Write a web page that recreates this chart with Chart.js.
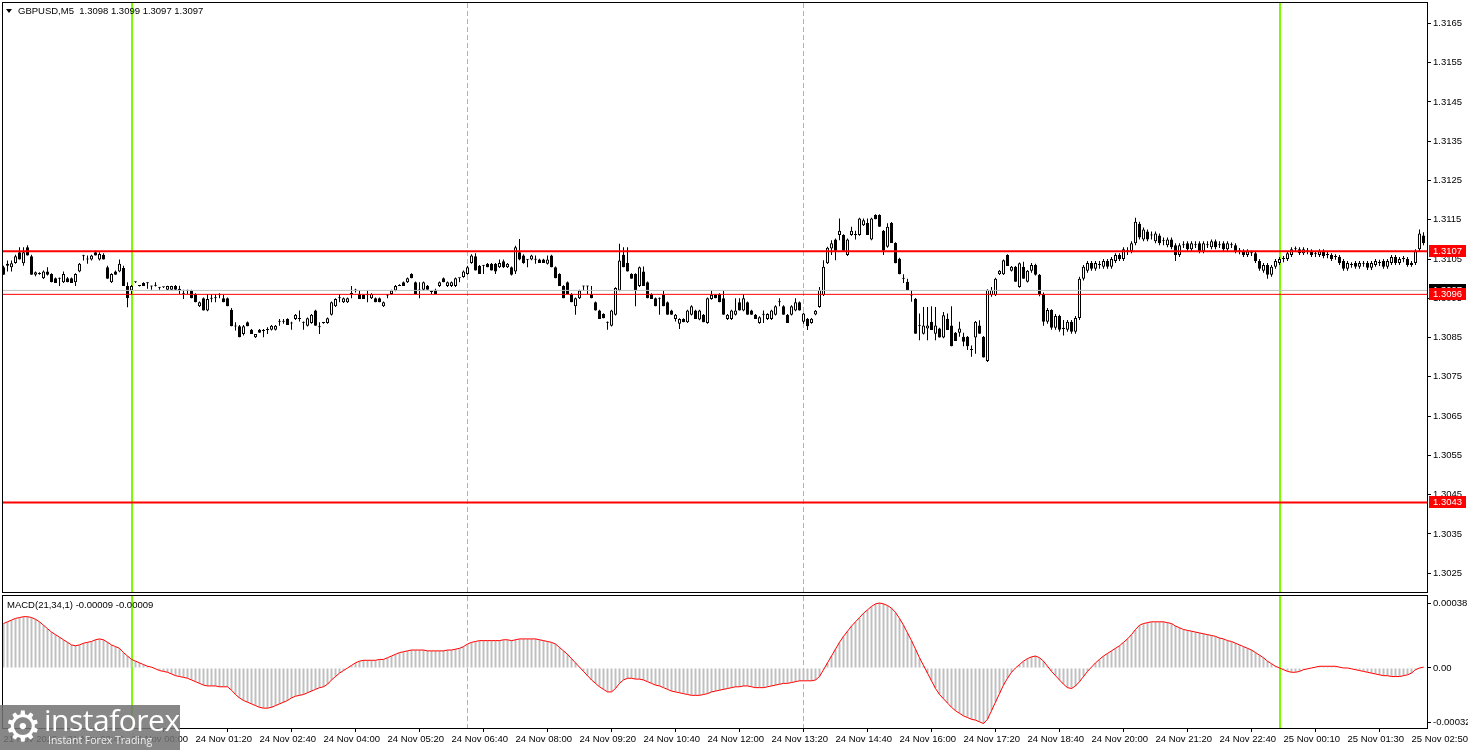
<!DOCTYPE html>
<html>
<head>
<meta charset="utf-8">
<title>GBPUSD M5</title>
<script src="https://cdn.jsdelivr.net/npm/chart.js@4.4.1/dist/chart.umd.min.js"></script>
<style>
  body { margin: 0; background: #fff; width: 1468px; height: 750px; overflow: hidden; position: relative; font-family: "Liberation Sans", Arial, sans-serif; }
  #pricePane { position: absolute; left: 0; top: 0; }
  #macdPane { position: absolute; left: 0; top: 594px; }
  .tri { position: absolute; left: 6px; top: 9px; width: 0; height: 0; border-left: 3.5px solid transparent; border-right: 3.5px solid transparent; border-top: 4px solid #000; }
  .hdr { position: absolute; left: 18px; top: 5px; font-size: 9.5px; line-height: 11px; color: #000; white-space: pre; }
  .macdHdr { position: absolute; left: 7px; top: 599px; font-size: 9.5px; line-height: 11px; color: #000; white-space: pre; }
  #logo { position: absolute; left: 0; top: 705px; width: 180px; height: 45px; background: rgba(115,115,115,0.86); color: #fff; overflow: hidden; }
  #logo .gear { position: absolute; left: 4px; top: -1px; font-family: "DejaVu Sans"; font-size: 42px; line-height: 46px; }
  #logo .brand { position: absolute; left: 44px; top: -1px; font-family: "Open Sans"; font-size: 30px; line-height: 32px; letter-spacing: -0.5px; }
  #logo .tag { position: absolute; left: 48px; top: 29px; font-family: "Open Sans"; font-size: 10.5px; line-height: 13px; color: #eee; }
</style>
</head>
<body>
<canvas id="pricePane" width="1468" height="594"></canvas>
<canvas id="macdPane" width="1468" height="156"></canvas>
<div class="tri"></div>
<div class="hdr">GBPUSD,M5  1.3098 1.3099 1.3097 1.3097</div>
<div class="macdHdr">MACD(21,34,1) -0.00009 -0.00009</div>
<div id="logo"><span class="gear">⚙</span><span class="brand">instaforex</span><span class="tag">Instant Forex Trading</span></div>
<script>
/*********************************/
// GBPUSD M5 + MACD panes        //
/*********************************/

// candles, one per 5 minutes (21 Nov 21:20 .. 25 Nov 03:00)
var opens = [
  1.31029,1.31033,1.31029,1.31040,1.31067,1.31039,1.31080,1.31057,1.31010,1.31012,
  1.31001,1.31018,1.31012,1.31001,1.31001,1.30991,1.31001,1.31001,1.30991,1.31018,
  1.31057,1.31049,1.31049,1.31067,1.31049,1.31061,1.31029,1.30991,1.31018,1.31018,
  1.31027,1.30981,1.30970,1.30991,1.30981,1.30989,1.30989,1.30981,1.30982,1.30978,
  1.30978,1.30972,1.30972,1.30981,1.30972,1.30961,1.30970,1.30970,1.30961,1.30930,
  1.30950,1.30919,1.30950,1.30950,1.30959,1.30950,1.30950,1.30921,1.30879,1.30879,
  1.30859,1.30889,1.30870,1.30851,1.30870,1.30868,1.30870,1.30870,1.30870,1.30891,
  1.30890,1.30897,1.30887,1.30897,1.30897,1.30889,1.30880,1.30887,1.30919,1.30876,
  1.30887,1.30887,1.30908,1.30930,1.30950,1.30940,1.30940,1.30961,1.30970,1.30961,
  1.30959,1.30959,1.30950,1.30950,1.30950,1.30930,1.30957,1.30961,1.30970,1.30984,
  1.30991,1.30991,1.31012,1.30991,1.30970,1.30972,1.30982,1.30967,1.30972,1.30981,
  1.31001,1.30981,1.30981,1.30981,1.31001,1.31004,1.31012,1.31040,1.31057,1.31033,
  1.31033,1.31038,1.31038,1.31038,1.31029,1.31044,1.31029,1.31029,1.31018,1.31067,
  1.31059,1.31049,1.31049,1.31049,1.31049,1.31049,1.31038,1.31059,1.31029,1.31012,
  1.30981,1.30991,1.30961,1.30930,1.30950,1.30981,1.30981,1.30961,1.30940,1.30919,
  1.30910,1.30889,1.30880,1.30908,1.30970,1.31061,1.31040,1.31012,1.31012,1.30981,
  1.31018,1.30991,1.30961,1.30950,1.30950,1.30959,1.30940,1.30919,1.30897,1.30885,
  1.30897,1.30889,1.30908,1.30919,1.30896,1.30908,1.30887,1.30948,1.30959,1.30961,
  1.30950,1.30897,1.30897,1.30908,1.30940,1.30919,1.30940,1.30919,1.30908,1.30887,
  1.30908,1.30897,1.30897,1.30908,1.30940,1.30930,1.30908,1.30908,1.30919,1.30940,
  1.30890,1.30898,1.30887,1.30909,1.30928,1.30958,1.31039,1.31077,1.31100,1.31111,
  1.31111,1.31060,1.31111,1.31111,1.31111,1.31136,1.31142,1.31100,1.31162,1.31162,
  1.31122,1.31081,1.31142,1.31091,1.31051,1.31000,1.30992,1.30958,1.30949,1.30881,
  1.30860,1.30873,1.30890,1.30860,1.30873,1.30850,1.30898,1.30881,1.30862,1.30862,
  1.30852,1.30852,1.30819,1.30850,1.30881,1.30852,1.30790,1.30958,1.30958,1.31011,
  1.31011,1.31060,1.31020,1.31030,1.30979,1.31030,1.30992,1.31020,1.31035,1.31010,
  1.30960,1.30890,1.30920,1.30875,1.30905,1.30872,1.30870,1.30890,1.30865,1.30900,
  1.31000,1.31020,1.31040,1.31025,1.31035,1.31030,1.31045,1.31030,1.31045,1.31060,
  1.31050,1.31070,1.31070,1.31090,1.31140,1.31100,1.31120,1.31110,1.31095,1.31110,
  1.31095,1.31085,1.31100,1.31085,1.31060,1.31085,1.31090,1.31075,1.31085,1.31090,
  1.31070,1.31085,1.31080,1.31095,1.31085,1.31090,1.31075,1.31085,1.31085,1.31070,
  1.31070,1.31060,1.31065,1.31065,1.31045,1.31020,1.31035,1.31010,1.31030,1.31040,
  1.31050,1.31050,1.31060,1.31075,1.31075,1.31065,1.31070,1.31070,1.31062,1.31060,
  1.31070,1.31060,1.31060,1.31055,1.31055,1.31045,1.31025,1.31035,1.31040,1.31030,
  1.31038,1.31040,1.31028,1.31035,1.31040,1.31045,1.31030,1.31040,1.31055,1.31040,
  1.31050,1.31050,1.31035,1.31040,1.31075,1.31110
];
var highs = [
  1.31033,1.31046,1.31046,1.31061,1.31080,1.31080,1.31085,1.31061,1.31018,1.31016,
  1.31021,1.31029,1.31014,1.31003,1.31003,1.31018,1.31004,1.31003,1.31014,1.31040,
  1.31061,1.31059,1.31061,1.31072,1.31067,1.31065,1.31033,1.31014,1.31021,1.31049,
  1.31033,1.30991,1.30984,1.30993,1.30982,1.30991,1.30991,1.30982,1.30991,1.30979,
  1.30979,1.30982,1.30982,1.30984,1.30982,1.30972,1.30972,1.30972,1.30963,1.30942,
  1.30952,1.30961,1.30961,1.30961,1.30963,1.30959,1.30952,1.30925,1.30889,1.30882,
  1.30882,1.30891,1.30872,1.30859,1.30872,1.30872,1.30876,1.30882,1.30882,1.30897,
  1.30897,1.30899,1.30890,1.30910,1.30919,1.30891,1.30901,1.30910,1.30921,1.30889,
  1.30889,1.30901,1.30942,1.30950,1.30961,1.30952,1.30952,1.30981,1.30974,1.30970,
  1.30961,1.30970,1.30963,1.30952,1.30952,1.30942,1.30961,1.30972,1.30984,1.30986,
  1.30993,1.31003,1.31014,1.30993,1.30991,1.30993,1.30984,1.30968,1.30974,1.30993,
  1.31003,1.30993,1.30993,1.31003,1.31003,1.31021,1.31033,1.31062,1.31065,1.31035,
  1.31035,1.31040,1.31040,1.31040,1.31049,1.31049,1.31040,1.31031,1.31084,1.31101,
  1.31062,1.31050,1.31061,1.31059,1.31051,1.31051,1.31059,1.31061,1.31031,1.31014,
  1.30983,1.30993,1.30963,1.30952,1.30972,1.30982,1.30982,1.30981,1.30942,1.30921,
  1.30912,1.30891,1.30921,1.30978,1.31089,1.31080,1.31080,1.31014,1.31014,1.31031,
  1.31031,1.30993,1.30963,1.30952,1.30952,1.30970,1.30942,1.30921,1.30910,1.30899,
  1.30899,1.30921,1.30932,1.30921,1.30921,1.30910,1.30952,1.30970,1.30961,1.30963,
  1.30970,1.30910,1.30921,1.30950,1.30950,1.30961,1.30942,1.30921,1.30910,1.30904,
  1.30919,1.30912,1.30921,1.30932,1.30950,1.30932,1.30910,1.30932,1.30950,1.30942,
  1.30913,1.30900,1.30900,1.30920,1.30979,1.31047,1.31081,1.31098,1.31102,1.31153,
  1.31113,1.31102,1.31132,1.31122,1.31155,1.31153,1.31153,1.31155,1.31164,1.31164,
  1.31124,1.31141,1.31144,1.31093,1.31053,1.31011,1.31000,1.30971,1.30951,1.30911,
  1.30928,1.30928,1.30930,1.30928,1.30875,1.30915,1.30911,1.30930,1.30864,1.30890,
  1.30862,1.30854,1.30830,1.30892,1.30894,1.30854,1.30973,1.30979,1.31002,1.31022,
  1.31049,1.31062,1.31032,1.31032,1.31041,1.31043,1.31022,1.31040,1.31038,1.31012,
  1.30965,1.30925,1.30922,1.30910,1.30908,1.30895,1.30895,1.30895,1.30905,1.31005,
  1.31035,1.31045,1.31045,1.31045,1.31045,1.31050,1.31050,1.31055,1.31065,1.31065,
  1.31080,1.31080,1.31095,1.31155,1.31145,1.31130,1.31125,1.31120,1.31120,1.31115,
  1.31105,1.31105,1.31105,1.31090,1.31090,1.31095,1.31095,1.31095,1.31095,1.31095,
  1.31095,1.31095,1.31100,1.31100,1.31095,1.31095,1.31095,1.31092,1.31090,1.31078,
  1.31075,1.31075,1.31072,1.31070,1.31050,1.31040,1.31040,1.31035,1.31050,1.31055,
  1.31058,1.31070,1.31080,1.31082,1.31080,1.31080,1.31078,1.31075,1.31070,1.31075,
  1.31075,1.31068,1.31065,1.31062,1.31060,1.31050,1.31045,1.31042,1.31045,1.31045,
  1.31045,1.31045,1.31045,1.31050,1.31048,1.31050,1.31050,1.31060,1.31060,1.31055,
  1.31058,1.31055,1.31045,1.31075,1.31125,1.31118
];
var lows = [
  1.31010,1.31018,1.31018,1.31038,1.31049,1.31033,1.31059,1.31010,1.31006,1.31010,
  1.30999,1.31008,1.30991,1.30989,1.30981,1.30989,1.30991,1.30989,1.30981,1.31016,
  1.31046,1.31038,1.31046,1.31059,1.31046,1.31049,1.31000,1.30989,1.31010,1.31016,
  1.30981,1.30927,1.30961,1.30989,1.30980,1.30981,1.30974,1.30972,1.30980,1.30972,
  1.30976,1.30971,1.30971,1.30972,1.30961,1.30948,1.30961,1.30950,1.30940,1.30928,
  1.30919,1.30917,1.30940,1.30940,1.30950,1.30940,1.30930,1.30879,1.30868,1.30851,
  1.30855,1.30879,1.30859,1.30849,1.30862,1.30851,1.30859,1.30868,1.30868,1.30880,
  1.30885,1.30882,1.30870,1.30895,1.30891,1.30870,1.30878,1.30885,1.30880,1.30859,
  1.30885,1.30885,1.30906,1.30928,1.30940,1.30938,1.30938,1.30950,1.30965,1.30948,
  1.30948,1.30940,1.30948,1.30940,1.30940,1.30928,1.30950,1.30959,1.30968,1.30981,
  1.30981,1.30989,1.31001,1.30961,1.30950,1.30970,1.30972,1.30961,1.30961,1.30979,
  1.30991,1.30979,1.30979,1.30979,1.30991,1.31002,1.31010,1.31038,1.31021,1.31012,
  1.31012,1.31029,1.31021,1.31012,1.31027,1.31027,1.31027,1.31008,1.31012,1.31047,
  1.31038,1.31029,1.31047,1.31038,1.31040,1.31040,1.31036,1.31029,1.31001,1.30981,
  1.30950,1.30961,1.30940,1.30908,1.30948,1.30970,1.30961,1.30950,1.30919,1.30897,
  1.30899,1.30870,1.30878,1.30906,1.30968,1.31029,1.31018,1.31000,1.30930,1.30979,
  1.30981,1.30950,1.30948,1.30930,1.30908,1.30930,1.30908,1.30908,1.30891,1.30872,
  1.30889,1.30887,1.30906,1.30897,1.30894,1.30889,1.30885,1.30946,1.30950,1.30940,
  1.30908,1.30895,1.30895,1.30906,1.30919,1.30917,1.30908,1.30908,1.30897,1.30885,
  1.30887,1.30895,1.30895,1.30906,1.30930,1.30908,1.30887,1.30906,1.30917,1.30919,
  1.30885,1.30869,1.30885,1.30907,1.30926,1.30956,1.31037,1.31060,1.31047,1.31098,
  1.31071,1.31058,1.31109,1.31100,1.31109,1.31134,1.31111,1.31098,1.31151,1.31132,
  1.31060,1.31079,1.31091,1.31039,1.31011,1.30989,1.30971,1.30941,1.30860,1.30843,
  1.30858,1.30843,1.30869,1.30843,1.30850,1.30848,1.30869,1.30828,1.30841,1.30852,
  1.30828,1.30818,1.30801,1.30809,1.30860,1.30799,1.30788,1.30954,1.30956,1.31009,
  1.31009,1.31032,1.31018,1.30992,1.30977,1.31000,1.30990,1.31015,1.31008,1.30955,
  1.30880,1.30885,1.30870,1.30870,1.30865,1.30855,1.30865,1.30860,1.30860,1.30895,
  1.30995,1.31015,1.31020,1.31020,1.31025,1.31025,1.31025,1.31025,1.31040,1.31045,
  1.31045,1.31060,1.31065,1.31085,1.31100,1.31095,1.31095,1.31100,1.31090,1.31085,
  1.31085,1.31080,1.31075,1.31045,1.31055,1.31078,1.31070,1.31070,1.31078,1.31065,
  1.31065,1.31078,1.31075,1.31075,1.31078,1.31070,1.31070,1.31078,1.31065,1.31062,
  1.31055,1.31055,1.31058,1.31040,1.31020,1.31015,1.31000,1.31005,1.31025,1.31035,
  1.31042,1.31045,1.31055,1.31068,1.31060,1.31060,1.31062,1.31055,1.31055,1.31055,
  1.31052,1.31052,1.31045,1.31048,1.31035,1.31020,1.31020,1.31028,1.31025,1.31025,
  1.31030,1.31022,1.31022,1.31030,1.31032,1.31025,1.31025,1.31035,1.31035,1.31035,
  1.31042,1.31030,1.31030,1.31035,1.31070,1.31085
];
var closes = [
  1.31010,1.31038,1.31039,1.31057,1.31049,1.31067,1.31059,1.31010,1.31016,1.31012,
  1.31018,1.31010,1.30991,1.30989,1.31000,1.31012,1.30991,1.30989,1.31012,1.31038,
  1.31058,1.31050,1.31059,1.31059,1.31063,1.31049,1.31000,1.31012,1.31010,1.31038,
  1.30981,1.30950,1.30981,1.30991,1.30981,1.30981,1.30988,1.30980,1.30984,1.30977,
  1.30978,1.30981,1.30981,1.30972,1.30971,1.30960,1.30969,1.30950,1.30940,1.30940,
  1.30919,1.30948,1.30949,1.30951,1.30958,1.30940,1.30930,1.30879,1.30878,1.30851,
  1.30879,1.30879,1.30859,1.30859,1.30862,1.30867,1.30869,1.30880,1.30880,1.30890,
  1.30891,1.30882,1.30886,1.30908,1.30898,1.30888,1.30899,1.30908,1.30880,1.30877,
  1.30887,1.30899,1.30940,1.30948,1.30951,1.30950,1.30950,1.30962,1.30971,1.30948,
  1.30948,1.30958,1.30961,1.30940,1.30940,1.30940,1.30958,1.30970,1.30981,1.30981,
  1.30981,1.31001,1.31001,1.30961,1.30971,1.30991,1.30972,1.30966,1.30961,1.30991,
  1.30991,1.30991,1.30991,1.31001,1.31002,1.31018,1.31029,1.31059,1.31021,1.31012,
  1.31034,1.31029,1.31021,1.31018,1.31040,1.31029,1.31038,1.31010,1.31080,1.31049,
  1.31040,1.31048,1.31059,1.31048,1.31040,1.31040,1.31049,1.31029,1.31001,1.30981,
  1.30950,1.30961,1.30940,1.30950,1.30970,1.30980,1.30980,1.30950,1.30919,1.30897,
  1.30899,1.30888,1.30919,1.30976,1.31046,1.31029,1.31018,1.31000,1.30970,1.31029,
  1.30981,1.30950,1.30948,1.30930,1.30949,1.30930,1.30908,1.30908,1.30908,1.30897,
  1.30889,1.30919,1.30930,1.30897,1.30919,1.30889,1.30950,1.30959,1.30950,1.30940,
  1.30908,1.30908,1.30919,1.30919,1.30919,1.30950,1.30908,1.30908,1.30897,1.30902,
  1.30909,1.30910,1.30919,1.30930,1.30941,1.30908,1.30887,1.30930,1.30940,1.30919,
  1.30911,1.30879,1.30898,1.30918,1.30971,1.31030,1.31079,1.31090,1.31071,1.31122,
  1.31071,1.31100,1.31122,1.31112,1.31153,1.31149,1.31111,1.31153,1.31151,1.31132,
  1.31071,1.31132,1.31091,1.31039,1.31011,1.31001,1.30971,1.30957,1.30860,1.30880,
  1.30881,1.30881,1.30869,1.30881,1.30850,1.30907,1.30869,1.30828,1.30841,1.30873,
  1.30839,1.30828,1.30818,1.30890,1.30860,1.30799,1.30971,1.30971,1.31000,1.31020,
  1.31047,1.31032,1.31030,1.30992,1.31039,1.31000,1.31020,1.31035,1.31010,1.30960,
  1.30890,1.30920,1.30875,1.30905,1.30870,1.30875,1.30890,1.30865,1.30900,1.31000,
  1.31030,1.31040,1.31025,1.31040,1.31036,1.31045,1.31030,1.31050,1.31060,1.31050,
  1.31075,1.31071,1.31090,1.31145,1.31105,1.31125,1.31100,1.31111,1.31115,1.31090,
  1.31096,1.31100,1.31080,1.31060,1.31085,1.31086,1.31075,1.31090,1.31086,1.31070,
  1.31090,1.31086,1.31095,1.31080,1.31086,1.31075,1.31090,1.31086,1.31070,1.31071,
  1.31060,1.31070,1.31066,1.31045,1.31025,1.31035,1.31010,1.31030,1.31045,1.31050,
  1.31051,1.31065,1.31075,1.31076,1.31065,1.31075,1.31071,1.31060,1.31063,1.31070,
  1.31058,1.31061,1.31050,1.31056,1.31040,1.31025,1.31040,1.31036,1.31030,1.31040,
  1.31039,1.31028,1.31040,1.31045,1.31041,1.31030,1.31045,1.31055,1.31040,1.31050,
  1.31051,1.31035,1.31040,1.31070,1.31115,1.31090
];

// MACD(21,34,1) main; signal is SMA(1) of main so the red line sits on the bars
var macdMain = [
  0.00026,0.00027,0.00028,0.00029,0.000295,0.0003,0.0003,0.000295,0.000285,0.00027,
  0.00025,0.00023,0.00021,0.000195,0.00018,0.000165,0.00015,0.000135,0.00013,0.000135,
  0.000145,0.00015,0.000155,0.000165,0.00017,0.000165,0.00015,0.000135,0.000125,0.000115,
  0.00009,0.00007,0.00005,0.00004,0.00003,0.00002,0.00001,0.000005,-0.000005,-0.000015,
  -0.00002,-0.000025,-0.000035,-0.000045,-0.00005,-0.000055,-0.00006,-0.00007,-0.00008,-0.00009,
  -0.0001,-0.000105,-0.000105,-0.000105,-0.00011,-0.00011,-0.00011,-0.00013,-0.000155,-0.000175,
  -0.00019,-0.0002,-0.00021,-0.00022,-0.00023,-0.000235,-0.000235,-0.00023,-0.00022,-0.00021,
  -0.0002,-0.00019,-0.000175,-0.000165,-0.00016,-0.000155,-0.000145,-0.000135,-0.000125,-0.000115,
  -0.00011,-0.000095,-0.00007,-0.00005,-0.00003,-0.000015,0,0.000015,0.00003,0.00004,
  0.000045,0.000045,0.000045,0.000045,0.00005,0.00005,0.00006,0.00007,0.00008,0.00009,
  0.000095,0.0001,0.000105,0.000105,0.000105,0.000105,0.0001,0.0001,0.0001,0.0001,
  0.0001,0.000105,0.000105,0.00011,0.000115,0.000125,0.00014,0.00015,0.000155,0.00016,
  0.00016,0.00016,0.00016,0.00016,0.00016,0.000165,0.000165,0.00016,0.000165,0.00017,
  0.00017,0.00017,0.00017,0.00017,0.000165,0.00016,0.000155,0.00015,0.00014,0.00012,
  0.0001,0.00008,0.000055,0.00003,0.000005,-0.00002,-0.000045,-0.00007,-0.00009,-0.00011,
  -0.000125,-0.00014,-0.00014,-0.00012,-0.00009,-0.00007,-0.00006,-0.00006,-0.000065,-0.000065,
  -0.00007,-0.00008,-0.00009,-0.0001,-0.000105,-0.000115,-0.000125,-0.000135,-0.00014,-0.000145,
  -0.00015,-0.000155,-0.00016,-0.00016,-0.00016,-0.000155,-0.00015,-0.00014,-0.000135,-0.00013,
  -0.000125,-0.00012,-0.000115,-0.00011,-0.00011,-0.000105,-0.000105,-0.00011,-0.000115,-0.000115,
  -0.000115,-0.00011,-0.000105,-0.0001,-0.000095,-0.00009,-0.00009,-0.000085,-0.00008,-0.000075,
  -0.000075,-0.000075,-0.000075,-0.00007,-0.00005,-0.00001,0.00003,0.00007,0.00011,0.00015,
  0.000185,0.000215,0.000245,0.00027,0.000295,0.00032,0.00034,0.00036,0.000375,0.00038,
  0.000375,0.000365,0.00035,0.000325,0.00029,0.00025,0.000205,0.00016,0.00011,0.00006,
  0.000015,-0.00003,-0.000075,-0.00012,-0.000155,-0.00018,-0.000205,-0.00023,-0.00025,-0.000265,
  -0.00028,-0.00029,-0.0003,-0.000305,-0.000315,-0.000325,-0.0003,-0.00025,-0.0002,-0.00015,
  -0.0001,-0.00006,-0.000025,0,0.00002,0.00004,0.000055,0.000065,0.00007,0.00006,
  0.00004,0.00001,-0.00002,-0.000045,-0.00007,-0.000095,-0.000115,-0.00012,-0.000105,-0.00008,
  -0.00005,-0.00002,0.000005,0.00003,0.00005,0.00007,0.000085,0.0001,0.000115,0.00013,
  0.00015,0.00017,0.000195,0.000225,0.00025,0.00026,0.000265,0.00027,0.00027,0.00027,
  0.00027,0.000265,0.00026,0.000245,0.000235,0.000225,0.00022,0.000215,0.00021,0.000205,
  0.0002,0.000195,0.00019,0.000185,0.000175,0.00017,0.00016,0.000155,0.000145,0.000135,
  0.000125,0.000115,0.000105,0.00009,0.000075,0.00006,0.00004,0.000025,0.00001,0,
  -0.00001,-0.00002,-0.000025,-0.000025,-0.00002,-0.00001,-0.000005,0,0.000005,0.00001,
  0.00001,0.00001,0.00001,0.00001,0.000005,0,0,-0.000005,-0.00001,-0.000015,
  -0.00002,-0.000025,-0.00003,-0.000035,-0.00004,-0.000045,-0.000045,-0.00005,-0.00005,-0.00005,
  -0.000045,-0.00004,-0.00003,-0.00001,0,0.000005
];

// axis ticks
var priceTicks = [1.3165, 1.3155, 1.3145, 1.3135, 1.3125, 1.3115, 1.3105, 1.3095, 1.3085, 1.3075, 1.3065, 1.3055, 1.3045, 1.3035, 1.3025];
var macdTicks = [0.00038, 0, -0.00032];
var macdTickLabels = ['0.00038', '0.00', '-0.00032'];
var timeTickBars = [0, 16, 32, 48, 64, 80, 96, 112, 128, 144, 160, 176, 192, 208, 224, 240, 256, 272, 288, 304, 320, 336, 352];
var timeTickLabels = ['21 Nov 2025', '21 Nov 22:40', '24 Nov 00:00', '24 Nov 01:20', '24 Nov 02:40', '24 Nov 04:00',
  '24 Nov 05:20', '24 Nov 06:40', '24 Nov 08:00', '24 Nov 09:20', '24 Nov 10:40', '24 Nov 12:00', '24 Nov 13:20',
  '24 Nov 14:40', '24 Nov 16:00', '24 Nov 17:20', '24 Nov 18:40', '24 Nov 20:00', '24 Nov 21:20', '24 Nov 22:40',
  '25 Nov 00:10', '25 Nov 01:30', '25 Nov 02:50'];

// horizontal levels and vertical markers (bar numbers)
var levelPrices = [1.3107, 1.3043];
var stopPrice = 1.3096;
var bidPrice = 1.3097;
var dayStartBars = [32, 319];
var separatorBars = [116, 200];

var xMin = -0.125, xMax = 355.875;
var tickFont = { family: 'Liberation Sans', size: 9.5 };

function flatLine(v) {
  return [{ x: xMin, y: v }, { x: xMax, y: v }];
}

// keep the plot box exactly where the layout padding puts it
function noLabelPadding(s) {
  s.paddingTop = 0;
  s.paddingBottom = 0;
  s.paddingLeft = 0;
  s.paddingRight = 0;
}

var framePlugin = {
  id: 'frame',
  afterDraw(chart) {
    var ctx = chart.ctx, a = chart.chartArea;
    ctx.save();
    ctx.strokeStyle = '#000';
    ctx.lineWidth = 1;
    ctx.strokeRect(a.left - 0.5, a.top - 0.5, a.right - a.left + 1, a.bottom - a.top + 1);
    ctx.restore();
  }
};

var markerPlugin = {
  id: 'markers',
  beforeDatasetsDraw(chart) {
    var ctx = chart.ctx, a = chart.chartArea, x = chart.scales.x;
    ctx.save();
    ctx.fillStyle = '#7cfc00';
    dayStartBars.forEach(function (b) {
      var px = Math.round(x.getPixelForValue(b));
      ctx.fillRect(px - 1, a.top, 2, a.bottom - a.top);
    });
    ctx.strokeStyle = '#8fd84a';
    ctx.lineWidth = 1;
    ctx.setLineDash([5, 3]);
    separatorBars.forEach(function (b) {
      var px = Math.floor(x.getPixelForValue(b)) + 0.5;
      ctx.beginPath();
      ctx.moveTo(px, a.top);
      ctx.lineTo(px, a.bottom);
      ctx.stroke();
    });
    ctx.restore();
  }
};

var priceTagPlugin = {
  id: 'priceTags',
  afterDraw(chart) {
    var ctx = chart.ctx, a = chart.chartArea, y = chart.scales.y;
    var tags = [[bidPrice, '#000'], [levelPrices[0], '#ff0000'], [stopPrice, '#ff0000'], [levelPrices[1], '#ff0000']];
    ctx.save();
    ctx.font = '9.5px "Liberation Sans"';
    ctx.textBaseline = 'middle';
    tags.forEach(function (t) {
      var py = Math.round(y.getPixelForValue(t[0]));
      ctx.fillStyle = t[1];
      ctx.fillRect(a.right + 2, py - 6, 37, 12);
      ctx.fillStyle = '#fff';
      ctx.fillText(t[0].toFixed(4), a.right + 6, py + 0.5);
    });
    ctx.restore();
  }
};

// price pane
var priceChart = new Chart(document.getElementById('pricePane'), {
  type: 'bar',
  data: {
    datasets: [
      { type: 'line', data: flatLine(bidPrice), borderColor: '#c0c0c0', borderWidth: 1, pointRadius: 0, order: 0 },
      { type: 'line', data: flatLine(stopPrice), borderColor: '#ff0000', borderWidth: 1, pointRadius: 0, order: 0 },
      { type: 'line', data: flatLine(levelPrices[0]), borderColor: '#ff0000', borderWidth: 2, pointRadius: 0, order: 0 },
      { type: 'line', data: flatLine(levelPrices[1]), borderColor: '#ff0000', borderWidth: 2, pointRadius: 0, order: 0 },
      {
        data: opens.map(function (o, i) { return { x: i, y: [o, closes[i]] }; }),
        backgroundColor: function (c) { return closes[c.dataIndex] >= opens[c.dataIndex] ? '#ffffff' : '#000000'; },
        borderColor: '#000', borderWidth: 1, borderSkipped: false, inflateAmount: 0,
        barThickness: 3, minBarLength: 1, grouped: false, order: 1
      },
      {
        data: lows.map(function (l, i) { return { x: i, y: [l, highs[i]] }; }),
        backgroundColor: '#000', borderWidth: 0, inflateAmount: 0,
        barThickness: 1, grouped: false, order: 2
      }
    ]
  },
  options: {
    responsive: false,
    animation: false,
    events: [],
    layout: { padding: { left: 3, top: 3, right: 0, bottom: 2 } },
    plugins: { legend: { display: false }, tooltip: { enabled: false } },
    scales: {
      x: { type: 'linear', min: xMin, max: xMax, display: false, offset: false },
      y: {
        type: 'linear', position: 'right', min: 1.30202, max: 1.31702, beginAtZero: false,
        afterFit: function (s) { s.width = 41; noLabelPadding(s); },
        afterBuildTicks: function (s) { s.ticks = priceTicks.map(function (v) { return { value: v }; }); },
        grid: { drawOnChartArea: false, drawTicks: true, tickLength: 4, color: '#000' },
        border: { display: false },
        ticks: { font: tickFont, color: '#000', padding: 2, autoSkip: false, callback: function (v) { return v.toFixed(4); } }
      }
    }
  },
  plugins: [markerPlugin, framePlugin, priceTagPlugin]
});

// MACD pane
var macdChart = new Chart(document.getElementById('macdPane'), {
  type: 'bar',
  data: {
    datasets: [
      {
        type: 'line', data: macdMain.map(function (v, i) { return { x: i, y: v }; }),
        borderColor: '#ff0000', borderWidth: 1, pointRadius: 0, tension: 0, order: 0
      },
      {
        data: macdMain.map(function (v, i) { return { x: i, y: [0, v] }; }),
        backgroundColor: '#c0c0c0', borderWidth: 0, inflateAmount: 0,
        barThickness: 2, grouped: false, order: 1
      }
    ]
  },
  options: {
    responsive: false,
    animation: false,
    events: [],
    layout: { padding: { left: 3, top: 2, right: 0, bottom: 0 } },
    plugins: { legend: { display: false }, tooltip: { enabled: false } },
    scales: {
      x: {
        type: 'linear', min: xMin, max: xMax, offset: false, position: 'bottom',
        afterFit: function (s) { s.height = 22; noLabelPadding(s); },
        afterBuildTicks: function (s) { s.ticks = timeTickBars.map(function (v) { return { value: v }; }); },
        grid: { drawOnChartArea: false, drawTicks: true, tickLength: 4, color: '#000' },
        border: { display: false },
        ticks: {
          font: tickFont, color: '#000', padding: 2, align: 'start', autoSkip: false, maxRotation: 0, minRotation: 0,
          callback: function (v, i) { return timeTickLabels[i]; }
        }
      },
      y: {
        type: 'linear', position: 'right', min: -0.000351, max: 0.000421, beginAtZero: false,
        afterFit: function (s) { s.width = 41; noLabelPadding(s); },
        afterBuildTicks: function (s) { s.ticks = macdTicks.map(function (v) { return { value: v }; }); },
        grid: { drawOnChartArea: false, drawTicks: true, tickLength: 4, color: '#000' },
        border: { display: false },
        ticks: { font: tickFont, color: '#000', padding: 2, autoSkip: false, callback: function (v, i) { return macdTickLabels[i]; } }
      }
    }
  },
  plugins: [markerPlugin, framePlugin]
});
</script>
</body>
</html>
